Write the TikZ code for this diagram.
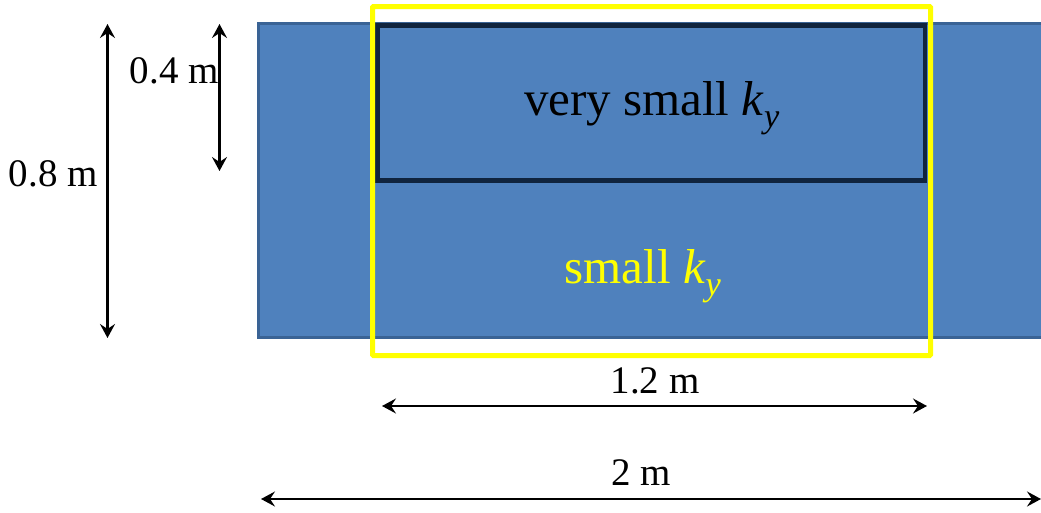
\documentclass[tikz,border=0pt]{standalone}
\usepackage{fontspec}
\setmainfont{Liberation Serif}
\usetikzlibrary{arrows.meta}
\definecolor{boxfill}{HTML}{4F81BD}
\definecolor{boxedge}{HTML}{3A6395}
\definecolor{navy}{HTML}{10243E}
\definecolor{yel}{HTML}{FFFF00}
\newcommand{\kysub}{\textit{k}\raisebox{-5pt}{\textsubscript{\textit{y}}}}
\tikzset{
  dim/.style={line width=2.2pt, {Stealth[length=14pt,width=15pt,inset=5pt]}-{Stealth[length=14pt,width=15pt,inset=5pt]}},
  dimlabel/.style={anchor=base, inner sep=0pt, font=\fontsize{39}{44}\selectfont},
  bigtext/.style={anchor=base, inner sep=0pt, font=\fontsize{49}{54}\selectfont}
}
\begin{document}
\begin{tikzpicture}[x=1pt,y=-1pt]
\useasboundingbox (0,0) rectangle (1041,512);
% main blue strip
\fill[boxfill] (258.5,23.5) rectangle (1041,337.5);
\draw[boxedge, line width=3pt] (1041,23.5) -- (258.5,23.5) -- (258.5,337.5) -- (1041,337.5);
% very small k_y zone
\draw[navy, line width=4.5pt] (377.5,25.5) rectangle (925,180.5);
% yellow frame
\draw[yel, line width=5pt, rounded corners=1pt] (372.5,6.5) rectangle (930.5,355.5);
% texts
\node[bigtext] (vs) at (652,115) {very small \kysub};
\node[bigtext, text=yel] (s) at (643,283) {small \kysub};
% dimension arrows
\coordinate (a8t) at (107.5,24);
\coordinate (a8b) at (107.5,338);
\draw[dim] (a8t) -- (a8b);
\node[dimlabel, anchor=base east] (l8) at (98,186) {0.8 m};
\coordinate (a4t) at (219.5,24);
\coordinate (a4b) at (219.5,171);
\draw[dim] (a4t) -- (a4b);
\node[dimlabel, anchor=base east] (l4) at (219,83) {0.4 m};
\coordinate (a12l) at (382,406);
\coordinate (a12r) at (927,406);
\draw[dim] (a12l) -- (a12r);
\node[dimlabel] (l12) at (655,393) {1.2 m};
\coordinate (a2l) at (261,499);
\coordinate (a2r) at (1041,499);
\draw[dim] (a2l) -- (a2r);
\node[dimlabel] (l2) at (641,485) {2 m};
\end{tikzpicture}
\end{document}
